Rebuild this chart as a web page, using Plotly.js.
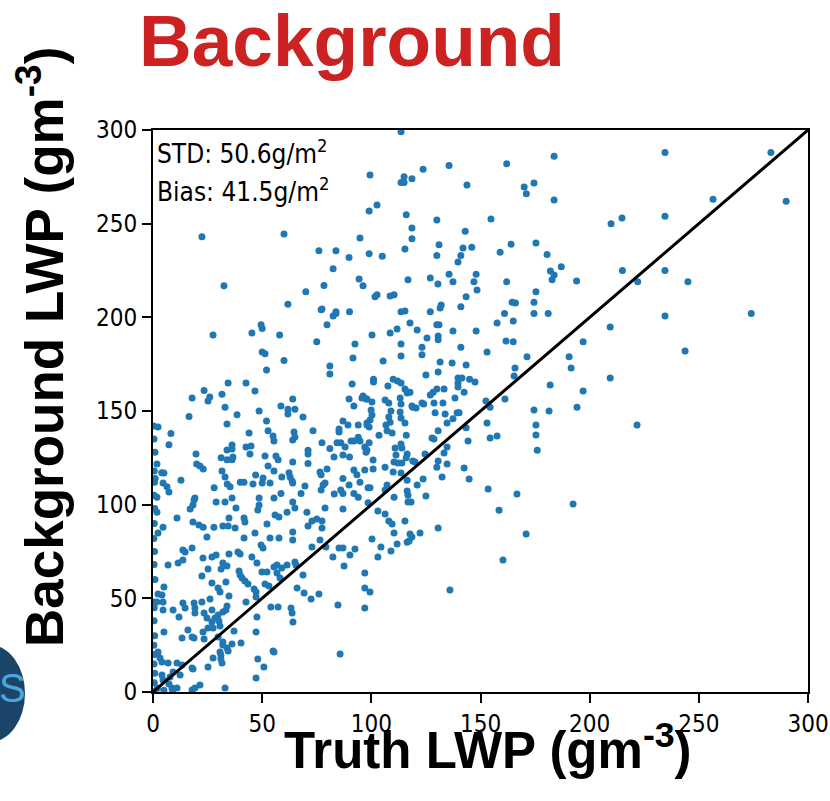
<!DOCTYPE html>
<html>
<head>
<meta charset="utf-8">
<script src="https://cdn.plot.ly/plotly-3.0.1.min.js"></script>
<style>
html,body{margin:0;padding:0;background:#fff;}
#chart{width:830px;height:801px;}
</style>
</head>
<body>
<div id="chart"></div>
<script>
// Scatter points: [truth LWP, background LWP]
var pointsTop = [
[113.6,299],[283,288],[290,262],[234.5,288],[183.7,286],[162,282],[135.6,281],[123.7,279],[99.4,276],[115,275],[118.6,274],[113.6,272],[115,272],[143.8,270.6],[170,269.6],[171,266],[174.5,271.7],[183.7,262.7],[102.6,260],[99,256.8],[116,254.7],[154.8,252.5],[130,252],[118.6,247.7],[143,246],[118.6,242],[175.4,239.7],[164,239],[131,238.7],[115.4,236.5],[142,237],[146,237.4],[99,234],[105,232.6],[130,233],[141,233],[159,234.7],[180.5,233.6],[139.7,229.6],[187,227],[182,224.7],[183.7,222.6],[182.8,220],[194,219.4],[135.6,223],[148,223],[116.8,220],[127,221],[130.5,217.8],[137.4,219],[147,219],[162,219],[148.4,214.6],[175.4,213.6],[101.7,211],[102.6,212],[108.6,211.4],[110.4,212],[143.4,211],[132,206.6],[131.5,205],[141,205.6],[164.5,208],[166,207.7],[174.5,208],[113.6,203],[115.4,203.4],[127,203],[161,202],[174.5,202],[181,202],
[256.5,263],[209.8,250],[214.8,253],[234.5,254],[215,225],[234.5,225],[222,219],[245,219],[274,202],[234.5,200.7],
[22.4,243],[60,244.5],[32.5,216.8],[61.8,207],[70,213.6],[76,235.5],[83.8,235.5],[89.8,232],[82.5,226],[78.3,217],[77.4,204.5],[83.8,203],[90,203],[94.4,220.5],[96.2,216.8],[94.8,242.4]
];
var pointsMidLeft = [
[27.5,190.6],[45.3,191.7],[49.5,196],[50,194],[58,190.6],[50,181.5],[51.3,180.5],[60,177],[52,171.9],[75,186.9],[79.7,196],[82.5,200.7],[83.8,202],[77,204],[92.5,185.8],[91.6,178.3],[81,174],[81,169.8],[34.4,165],[42.6,165],[23.4,161],[17.9,157],[26,157.5],[25.2,155.4],[31.6,159],[46.7,160.7],[33,152],[38.5,148],[48.6,150],[16.5,147],[33.9,143],[2.3,141.5],[8.2,138],[7.3,132],[52,144.7],[52.7,139.4],[55,136.7],[55.4,134],[44,138.3],[58.6,152.7],[61.8,151],[61.8,148.4],[65,151],[64,156.4],[68.7,146.8],[73.3,139.4],[64.6,138.8],[65,136.1],[64,134.5],[42.6,130.8],[44.9,131.3],[44.4,127],[36.2,131.9],[36.2,129.7],[33.9,129.2],[31.2,125],[33.9,124],[36.6,125.5],[36.2,124],
[19.7,127],[20,121.7],[21.5,120.7],[23,119],[31.6,118],[33,114.8],[34,111],[35.3,109.5],[28,109],[12.8,113],[1.8,121.7],[4,117],[5,116.9],[1,114],[4.6,111.6],[6.4,109.5],[7.3,106.8],[47,115.8],[40,112],[41.7,112],[45.8,111],[50,111.6],[50.4,114.3],[51.3,126],[52.7,120.7],[56.3,126],[57.3,124],[55.4,118],[59,114.8],[53.6,111.6],[62.3,117],[62.8,114.8],[63.7,112.6],[64,111.6],[58.6,106],[64,122.8],[71,129],[71,127],[71,122],[69.6,110],[67.8,106],[77.4,133],[76.5,117.5],[77,116],[77.9,110.5],[77,107.8],[78.8,111.6],[79.7,119],[81,130],[82.9,125.5],[84.3,133],[86,133],[88,130.8],[87,126.5],[85.2,140.4],[85.2,138.8],[87,144.7],[89.3,142.5],[89.8,156.4],[91.2,164.4],[92,152.7],[94,142.5],[96.2,158],[95.7,157],[97.6,156.4],[98,143.6],[99,141.5],[90.7,134],[92,134],[94,136],[94.8,134],[97,130.8],[97.6,128],[90,125.5],[87,114],[92,118.5],[93.4,116],[94.8,112],[97,118.5],[89.8,110.5],[83,105.7],[86,107.8],[87,106],[92,106],[98.5,109],[94,104],[1.8,104],[19.2,103.5],[36.2,103.5],[48.6,103.5],[55.4,103.5]
];
var pointsMidRight = [
[100.3,190.6],[108.6,191.7],[111.8,193.8],[117.7,197],[121,193.3],[130,196],[131,196],[137.4,192.7],[148,192.7],[157.6,197],[165,198],[125.5,189],[130.6,190],[130.6,188],[113.6,185.8],[113.6,179.4],[123.2,184],[123.2,180],[141,184],[161.7,187.4],[165,186.9],[171.3,178.9],[153,181.5],[190.6,178.9],[191.5,173],[197,186.9],
[105.4,176.7],[131.5,176.2],[137,175.6],[143.4,174.6],[130.6,170.8],[125,169.2],[165.8,173],[165.4,168.7],[110,167],[112,166],[113.6,165],[101,167],[101,165.5],[107.6,163.4],[115.4,161.8],[116.8,160],[116.4,159.6],[117.7,160],[130,161.8],[128.3,160],[127,158.6],[133.3,161.8],[139.7,167.6],[141.5,167.6],[139.7,165],[139.7,162.8],[145,167],[147.5,165.5],[142.5,160],[181.9,163.9],[197,160.7],[98,156.4],[100.3,154.8],[106.3,155.9],[108,154.3],[113.2,157],[113.6,153.8],[118.6,152.7],[120.5,151.6],[123.2,154.3],[124,153.8],[128.7,154.3],[132.8,154.3],[138.3,157],[152.5,155.4],[154.4,152],[161.2,156.4],[174.5,150.5],[181.4,150],[194.2,152],[99.9,150.5],[100.3,147.9],[99.4,145.2],[109,150],[108,146.8],[108.6,144],[113.2,149.5],[113.6,146.3],[119,152],[129.2,149],[133.8,148.4],[134.7,143.6],[137.4,145.8],[139.3,149],[140.2,149],[143.4,141],[98,142.5],[106.7,142.5],[107.2,139.4],[109.5,138.3],[115.4,143.6],[103.5,137],[116,137],[130.6,139.4],[127.8,135.6],[128.7,135],[153,143.6],[154.4,135.6],[157.6,136.7],[144.3,134],[175.4,142.5],[175.4,137.2],[176,129],[99,133],[98,129.2],[113.6,132.4],[114,130.3],[110.9,130.3],[116.4,127],[116,125],[111.3,126.5],[110.4,122.8],[112.2,122.3],[114,122.3],[119,123.3],[120,122.8],[124.6,127],[133.3,127.6],[134.7,130.8],[130.6,123.3],[130,120],[134.7,121.7],[100.8,123.9],[100.8,119],[106.3,120],[110,117.5],[113.6,116.9],[116.4,113],[142.5,119.6],[132.4,114.8],[144.8,113.7],[121,110.5],[123.7,113.7],[99.4,109],[107.2,110.5],[106.3,107.8],[116.4,107.3],[116.8,105],[125,104.6],[153.5,108.4],[166.7,105.7],[110.4,104],
[209.4,194.9],[243.7,182],[209.4,167.6],[221.7,142.5]
];
var pointsLow = [
[98.5,101],[116.8,101.4],[118.2,101.4],[103,96.6],[106.3,95],[108,91.3],[109.5,89.7],[115.4,91.3],[110.4,84.9],[117.7,84.4],[118.6,82.8],[116.4,80],[117.3,80.6],[122.3,84.9],[130.6,87.6],[100.3,81.7],[104.4,77.4],[111.8,79],[109,75.3],[103,72],[97,63.5],[97,55.5],[99.4,53.4],[97,44.8],[136,54.5],[158.5,97],[170.9,84.4],[160.3,70.5],[192.4,100.4],
[18.8,102.5],[18.3,99.8],[17,97.7],[28.9,101.4],[33,101.4],[38,98.2],[48,97.2],[48.6,99.8],[61.4,96],[64,101.4],[65,98.2],[55.9,94.5],[57.7,93.4],[11,92.9],[1.8,96],[18.3,90.8],[21,89.2],[23,88],[24.7,82.8],[4.6,88],[2.3,84.9],[27.9,88],[32,88.6],[34.4,88.6],[34.8,92.9],[37.6,87.6],[41.7,92.9],[42.1,90.8],[41.7,82.2],[46.7,84.9],[52.2,89.7],[49.5,78.5],[50.4,76.9],[53.6,82.2],[57.7,82.2],[64,85.4],[64,81.2],[70.5,96],[71,88.6],[72.8,91.3],[75,92.4],[77.4,91.3],[77.4,87.6],[76.5,81.2],[72.8,77.4],[78.8,98.2],[79.2,77.4],[82.4,72],[85.2,76.9],[87,76.9],[87.5,67.3],[90.2,73.1],[92.5,76.3],[87,97.7],
[13.7,75.8],[14.7,74.7],[17.9,76.9],[22.9,71.5],[27,72],[28.9,73.1],[11.5,68.9],[13.7,70.5],[6.9,67.8],[22.4,61.9],[25.2,65.7],[27,58.2],[32,68.9],[33.9,67.3],[34.8,73.7],[38.9,74.7],[39.9,73.7],[31.2,65.7],[33.4,58.7],[29.8,55.5],[30.7,53.4],[39.4,64.6],[39.9,62.5],[40.8,60.9],[42.1,59.3],[43.5,57.7],[45.3,72],[47.6,68.9],[49.9,64],[52.2,64],[51.3,57.7],[53.1,56.6],[55.4,66.7],[56.8,67.8],[59,66.2],[61.4,67.8],[56.8,63.5],[58.2,60.9],[65,69.4],[65.5,67.8],[68.7,62.5],[66,55.5],[69.2,52.9],[72.4,49.7],[76,52.3],[84.7,46.4],[46.3,55],[47.2,53.4],[42.6,48],[47.2,50.7],[54,45.4],[57.3,45.4],[63.2,44.8],[63.7,42.2],[64.1,37.4],[47.6,40],[47.2,32],
[2.3,52.3],[4.1,51.8],[0.3,48],[1.8,48],[4.6,48],[5,56],[4.6,43.8],[9.2,43.8],[5,32],[11.9,40],[13.7,47.5],[14.7,44.8],[18.8,47.5],[19.2,44.8],[22.4,48],[19.2,42.2],[23.4,42.2],[26.1,49.7],[27,43.8],[24.7,39.5],[27,37.4],[28.4,39.5],[29.8,41.1],[32,42.7],[33.4,43.8],[34.8,51.3],[33.9,45.9],[30.2,37.9],[30.7,35.2],[25.2,34.2],[27.5,34.2],[22.9,32],[23.4,28.3],[16,33.1],[13.3,28.8],[18.8,28.8],[17.9,29.4],[29.8,29.4],[32,26.7],[32,25.1],[33.9,23.5],[34.4,21.9],[30.7,21.4],[31.1,19.8],[31.1,17.6],[31.6,15.5],[36.2,25.6],[40.3,26.2],[37.1,32.6],[55,21.9],[55.4,21.4],[48,17.6],[50.8,13.3],[47.2,7.5],[27.5,18.2],[25.2,13.3],[17.9,12.8],[18.3,12.3],[21.5,3.7],[33,2.1],[17.9,1.1],[19.2,2.1],[11,15.5],[13.3,14.4],[6.9,15.5],[9.2,10.7],[11,2.1],[7.3,4.3],[8.7,2.1],[4.1,9.1],[4.6,6.4],[3.2,18.2],[4.1,16],[2.3,21.4],[7.8,8],[12.4,9.1],[85.7,20.3],
[0.6,5],[0.8,10],[0.5,15],[0.7,20],[0.4,25],[0.8,30],[0.5,38],[0.6,45],[0.9,60],[0.5,68],[0.7,75],[0.4,82],[0.6,90],[0.8,98],[0.5,105],[0.7,112],[0.6,118],[0.9,128],[0.5,135],[0.3,142],[2,2],[5,1],[1,0.5],[9,1]
];

var allPoints = pointsTop.concat(pointsMidLeft, pointsMidRight, pointsLow);
var truthLWP = allPoints.map(function(p){return p[0];});
var backgroundLWP = allPoints.map(function(p){return p[1];});

// 1:1 reference line
var lineX = [0, 300];
var lineY = [0, 300];

var tickVals = [0, 50, 100, 150, 200, 250, 300];
var tickText = ['0', '50', '100', '150', '200', '250', '300'];

var titleText = 'Background';
var xTitle = 'Truth LWP (gm<sup>-3</sup>)';
var yTitle = 'Background LWP (gm<sup>-3</sup>)';
var stdText = 'STD: 50.6g/m<sup>2</sup>';
var biasText = 'Bias: 41.5g/m<sup>2</sup>';

var narrowFont = 'Liberation Sans Narrow, DejaVu Sans Condensed, sans-serif';
var tickFont = {family: narrowFont, size: 24, color: '#000'};
var boldFont = 'Liberation Sans, Arial, sans-serif';

var traces = [
  {
    x: truthLWP, y: backgroundLWP, type: 'scatter', mode: 'markers',
    marker: {color: '#1f77b4', size: 7, line: {width: 0}},
    hoverinfo: 'skip', showlegend: false
  },
  {
    x: lineX, y: lineY, type: 'scatter', mode: 'lines',
    line: {color: '#000', width: 3}, hoverinfo: 'skip', showlegend: false
  }
];

var layout = {
  width: 830, height: 801,
  paper_bgcolor: '#fff', plot_bgcolor: '#fff',
  margin: {l: 153, r: 22, t: 130, b: 109, pad: 0},
  showlegend: false,
  title: {
    text: '<b>' + titleText + '</b>',
    font: {family: boldFont, size: 73, color: '#cc2222'},
    xref: 'container', yref: 'container',
    x: 352 / 830, xanchor: 'center',
    y: 1 - 40 / 801, yanchor: 'middle'
  },
  xaxis: {
    range: [0, 300], tickmode: 'array', tickvals: tickVals, ticktext: tickText,
    showgrid: false, zeroline: false, showline: true, linecolor: '#000', linewidth: 2,
    mirror: true, ticks: 'outside', ticklen: 9, tickwidth: 2, tickcolor: '#000',
    tickfont: tickFont
  },
  yaxis: {
    range: [0, 300], tickmode: 'array', tickvals: tickVals, ticktext: tickText,
    showgrid: false, zeroline: false, showline: true, linecolor: '#000', linewidth: 2,
    mirror: true, ticks: 'outside', ticklen: 9, tickwidth: 2, tickcolor: '#000',
    tickfont: tickFont
  },
  annotations: [
    {text: '<b>' + xTitle + '</b>', xref: 'paper', yref: 'paper',
     x: (488 - 153) / 655, y: (692 - 747) / 562, xanchor: 'center', yanchor: 'middle',
     showarrow: false, font: {family: boldFont, size: 51, color: '#000'}},
    {text: '<b>' + yTitle + '</b>', xref: 'paper', yref: 'paper', textangle: -90,
     x: (40 - 153) / 655, y: (692 - 347) / 562, xanchor: 'center', yanchor: 'middle',
     showarrow: false, font: {family: boldFont, size: 53, color: '#000'}},
    {text: stdText, xref: 'paper', yref: 'paper',
     x: 2 / 655, y: (692 - 152) / 562, xanchor: 'left', yanchor: 'middle',
     showarrow: false, font: {family: narrowFont, size: 26, color: '#000'}},
    {text: biasText, xref: 'paper', yref: 'paper',
     x: 2 / 655, y: (692 - 190) / 562, xanchor: 'left', yanchor: 'middle',
     showarrow: false, font: {family: narrowFont, size: 26, color: '#000'}},
    {text: 'S', xref: 'paper', yref: 'paper',
     x: (12 - 153) / 655, y: (692 - 688) / 562, xanchor: 'center', yanchor: 'middle',
     showarrow: false, font: {family: boldFont, size: 40, color: '#4aa8d8'}}
  ],
  shapes: [
    {type: 'circle', xref: 'paper', yref: 'paper', layer: 'below',
     x0: (-45 - 153) / 655, x1: (25 - 153) / 655,
     y0: (692 - 742) / 562, y1: (692 - 645) / 562,
     fillcolor: '#1b4568', line: {width: 0}}
  ]
};

Plotly.newPlot('chart', traces, layout, {staticPlot: true, displayModeBar: false});
</script>
</body>
</html>
